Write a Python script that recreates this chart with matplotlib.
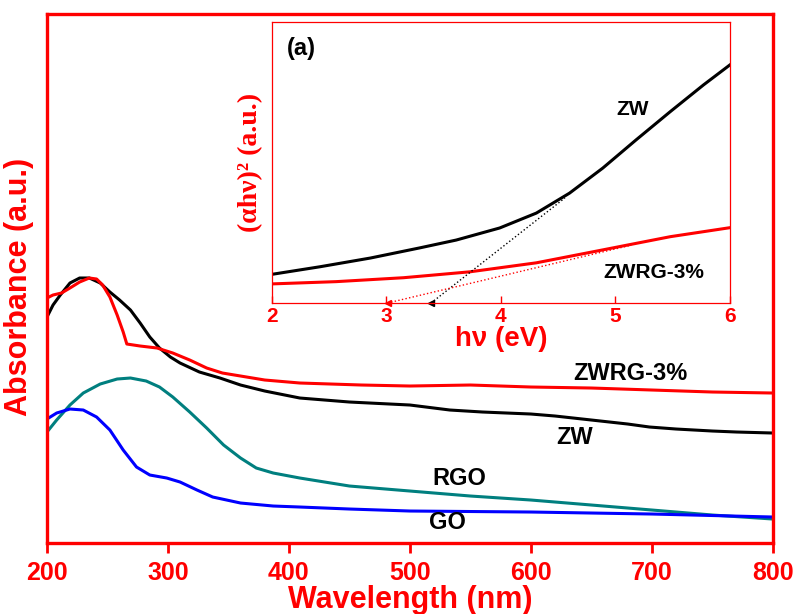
import matplotlib.pyplot as plt

plt.rcParams['font.family'] = ['Liberation Sans', 'DejaVu Sans']
plt.rcParams['font.weight'] = 'bold'

RED = '#ff0000'
TEAL = '#007f7f'

# ---------------- main UV-vis data ----------------
zw_nm = [200, 205, 211, 219, 227, 235, 244, 252, 260, 269, 277, 285, 293, 302,
         310, 326, 343, 360, 380, 409, 450, 500, 533, 560, 600, 620, 650, 680,
         698, 720, 750, 770, 800]
zw_abs = [2.26, 2.38, 2.48, 2.60, 2.65, 2.65, 2.60, 2.51, 2.43, 2.33, 2.20, 2.06,
          1.95, 1.86, 1.80, 1.71, 1.65, 1.58, 1.52, 1.45, 1.41, 1.38, 1.33, 1.31,
          1.29, 1.27, 1.23, 1.19, 1.16, 1.14, 1.12, 1.11, 1.10]

zwrg_nm = [200, 205, 212, 219, 227, 235, 241, 246, 252, 258, 263, 266, 277, 291,
           304, 318, 332, 345, 360, 380, 409, 460, 500, 550, 600, 650, 700, 750, 800]
zwrg_abs = [2.45, 2.48, 2.50, 2.55, 2.61, 2.65, 2.64, 2.58, 2.46, 2.28, 2.11, 1.99,
            1.97, 1.95, 1.90, 1.83, 1.75, 1.70, 1.67, 1.63, 1.60, 1.58, 1.57, 1.58,
            1.56, 1.55, 1.53, 1.51, 1.50]

rgo_nm = [200, 208, 219, 230, 244, 258, 269, 282, 293, 304, 318, 332, 346, 360,
          373, 387, 409, 450, 500, 550, 600, 650, 700, 750, 800]
rgo_abs = [1.11, 1.23, 1.38, 1.50, 1.59, 1.64, 1.65, 1.62, 1.56, 1.46, 1.31, 1.15,
           0.98, 0.85, 0.75, 0.70, 0.65, 0.57, 0.52, 0.47, 0.43, 0.38, 0.33, 0.28, 0.24]

go_nm = [200, 208, 219, 230, 241, 252, 263, 274, 285, 299, 310, 324, 337, 360,
         387, 409, 450, 500, 600, 700, 800]
go_abs = [1.24, 1.30, 1.34, 1.33, 1.26, 1.13, 0.93, 0.76, 0.68, 0.65, 0.61, 0.53,
          0.46, 0.40, 0.37, 0.36, 0.34, 0.32, 0.31, 0.29, 0.26]

# ---------------- inset Tauc plot data ----------------
tauc_zw_ev = [2.0, 2.42, 2.86, 3.29, 3.61, 3.99, 4.31, 4.60, 4.89, 5.18, 5.48, 5.77, 6.0]
tauc_zw = [0.102, 0.129, 0.160, 0.196, 0.224, 0.267, 0.320, 0.391, 0.480, 0.580,
           0.681, 0.776, 0.847]
tauc_zwrg_ev = [2.0, 2.56, 3.15, 3.73, 4.31, 4.89, 5.48, 6.0]
tauc_zwrg = [0.068, 0.076, 0.090, 0.111, 0.143, 0.189, 0.236, 0.268]

fit_zw_ev = [3.39, 4.56]
fit_zw_y = [0.0, 0.374]
fit_zwrg_ev = [3.01, 5.14]
fit_zwrg_y = [0.0, 0.206]

fig = plt.figure(figsize=(7.95, 6.14), dpi=100)
ax = fig.add_axes([0.0591, 0.1156, 0.913, 0.8616])

ax.plot(zw_nm, zw_abs, color='black', lw=2.2)
ax.plot(zwrg_nm, zwrg_abs, color=RED, lw=2.2)
ax.plot(rgo_nm, rgo_abs, color=TEAL, lw=2.2)
ax.plot(go_nm, go_abs, color='#0000ff', lw=2.2)

ax.set_xlim(200, 800)
ax.set_ylim(0, 5.29)
ax.set_xticks([200, 300, 400, 500, 600, 700, 800])
ax.set_yticks([])
ax.tick_params(axis='x', direction='out', length=7, width=2, color=RED,
               labelcolor=RED, labelsize=18, pad=6)
for s in ax.spines.values():
    s.set_color(RED)
    s.set_linewidth(2.4)
ax.set_xlabel('Wavelength (nm)', color=RED, fontsize=22, fontweight='bold', labelpad=0)
ax.set_ylabel('Absorbance (a.u.)', color=RED, fontsize=22, fontweight='bold')
ax.yaxis.set_label_coords(-0.018, 0.485)

lab = dict(fontsize=17, fontweight='bold', color='black', ha='center', va='center')
ax.text(682, 1.70, 'ZWRG-3%', **lab)
ax.text(636, 1.06, 'ZW', **lab)
ax.text(541, 0.65, 'RGO', **lab)
ax.text(531, 0.21, 'GO', **lab)

# ---------------- inset ----------------
ins = fig.add_axes([0.342, 0.5065, 0.576, 0.4577])
ins.plot(tauc_zw_ev, tauc_zw, color='black', lw=2.2)
ins.plot(tauc_zwrg_ev, tauc_zwrg, color=RED, lw=2.2)
ins.plot(fit_zw_ev, fit_zw_y, color='black', lw=1, ls=':')
ins.plot(fit_zwrg_ev, fit_zwrg_y, color=RED, lw=1, ls=':')
ins.plot([fit_zw_ev[0]], [fit_zw_y[0]], marker='<', color='black', ms=4, clip_on=False)
ins.plot([fit_zwrg_ev[0]], [fit_zwrg_y[0]], marker='<', color=RED, ms=4, clip_on=False)

ins.set_xlim(2, 6)
ins.set_ylim(0, 1)
ins.set_xticks([2, 3, 4, 5, 6])
ins.set_yticks([])
ins.tick_params(axis='x', direction='in', length=5, width=1, color=RED,
                labelcolor=RED, labelsize=15, pad=3)
for s in ins.spines.values():
    s.set_color(RED)
    s.set_linewidth(0.9)
ins.set_xlabel('hν (eV)', color=RED, fontsize=20, fontweight='bold', labelpad=0)
ins.set_ylabel('(αhν)² (a.u.)', color=RED, fontsize=20, fontweight='bold',
               family=['Liberation Serif', 'DejaVu Serif'])
ins.yaxis.set_label_coords(-0.02, 0.5)

ins.text(2.26, 0.904, '(a)', fontsize=17, fontweight='bold', ha='center', va='center')
ins.text(5.15, 0.687, 'ZW', fontsize=15, fontweight='bold', ha='center', va='center')
ins.text(5.34, 0.107, 'ZWRG-3%', fontsize=15, fontweight='bold', ha='center', va='center')

fig.savefig('out.png', dpi=100)
